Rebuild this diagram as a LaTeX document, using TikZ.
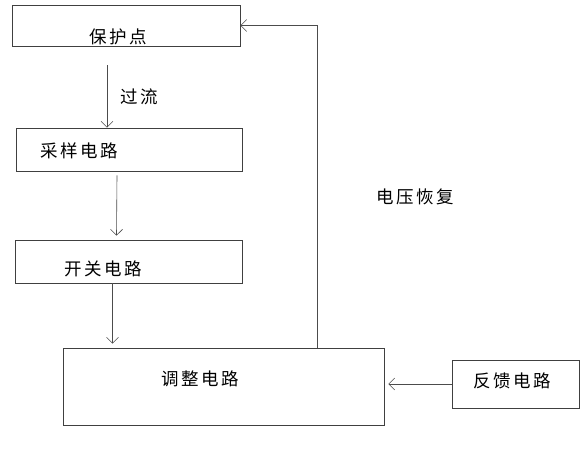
\documentclass[tikz,border=0pt]{standalone}
\usepackage{fontspec}
\newfontfamily\cjk[LetterSpace=14]{Noto Sans CJK SC}
\usepackage{tikz}
\usetikzlibrary{positioning,arrows.meta}

\begin{document}
\begin{tikzpicture}[x=1pt,y=-1pt,line width=0.6pt,
                    every node/.style={font=\cjk\fontsize{17.5}{17.5}\selectfont},
                    block/.style={draw=black!75,rectangle,inner sep=0pt},
                    arr/.style={draw=black!70,-{Straight Barb[length=6pt,width=12pt]}}]
    \useasboundingbox (0,0) rectangle (586,450);

    % blocks
    \node[block,minimum width=228pt,minimum height=41pt] (prot) at (126,25.5) {};
    \node[block,minimum width=226pt,minimum height=43pt] (samp) at (129,149.5) {};
    \node[block,minimum width=227pt,minimum height=43pt] (swit) at (128.5,261.5) {};
    \node[block,minimum width=321pt,minimum height=77pt] (adj) at (223.5,386.5) {};
    \node[block,minimum width=127pt,minimum height=48pt] (fb) at (515.5,384) {};

    % block texts
    \node (prot-t) at ([shift={(-8,11)}]prot.center) {保护点};
    \node (samp-t) at ([shift={(-50,1)}]samp.center) {采样电路};
    \node (swit-t) at ([shift={(-25,7)}]swit.center) {开关电路};
    \node (adj-t) at ([shift={(-23,-8)}]adj.center) {调整电路};
    \node (fb-t) at ([shift={(-3,-3)}]fb.center) {反馈电路};

    % arrows
    \draw[arr] ([shift={(-19,19)}]prot.south) -- ([shift={(-22,0)}]samp.north)
        node[midway,right=10pt] (oc) {过流};
    \draw[arr] ([shift={(-12,4)}]samp.south) -- ([shift={(-12,-4)}]swit.north);
    \draw[arr] ([shift={(-16,0)}]swit.south) -- ([shift={(-111,-4)}]adj.north);
    \draw[arr] ([shift={(94,0)}]adj.north) |- (prot.east);
    \draw[arr] (fb.west) -- ([shift={(4,0)}]fb.west -| adj.east);

    \node (vr) at (415,197) {电压恢复};
\end{tikzpicture}
\end{document}
